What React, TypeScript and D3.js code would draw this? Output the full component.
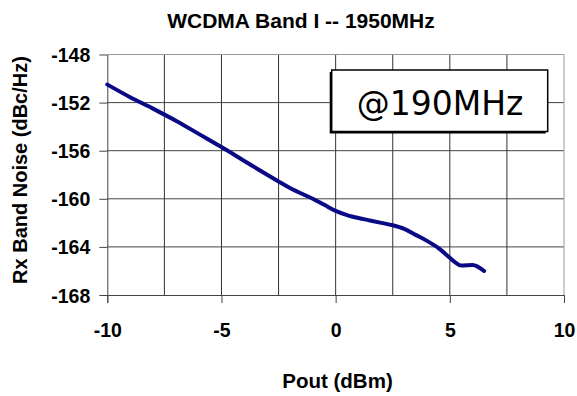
import * as d3 from 'd3';
import { useEffect, useRef } from 'react';

const pout = [-10, -9, -8, -7.5, -7, -6, -5, -4, -3, -2.5, -2, -1, -0.5, 0, 0.5, 1, 1.5, 2, 2.5, 3, 3.5, 4, 4.5, 5, 5.25, 5.5, 6, 6.5];
const noise = [-150.5, -151.55, -152.5, -153.0, -153.5, -154.6, -155.7, -156.85, -158.0, -158.56, -159.1, -160.0, -160.5, -161.0, -161.35, -161.6, -161.8, -162.0, -162.2, -162.5, -163.0, -163.5, -164.1, -164.9, -165.3, -165.55, -165.5, -166.0];
const xTicks = [-10, -5, 0, 5, 10];
const yTicks = [-148, -152, -156, -160, -164, -168];
const xGrid = [-7.5, -5, -2.5, 0, 2.5, 5, 7.5];

const width = 577;
const height = 396;
const font = '"Liberation Sans", Arial, sans-serif';

export default function App() {
  const ref = useRef<SVGSVGElement>(null);

  useEffect(() => {
    const svg = d3.select(ref.current);
    svg.selectAll('*').remove();

    const x = d3.scaleLinear().domain([-10, 10]).range([107.3, 564]);
    const y = d3.scaleLinear().domain([-168, -148]).range([295, 54.5]);
    const label = (d: d3.NumberValue) => String(d);

    svg.append('rect').attr('width', width).attr('height', height).attr('fill', '#fff');

    const grid = svg.append('g');
    grid.selectAll('line.v')
      .data(xGrid)
      .enter()
      .append('line')
      .attr('x1', (d) => x(d))
      .attr('x2', (d) => x(d))
      .attr('y1', y(-148))
      .attr('y2', y(-168))
      .attr('stroke', '#333')
      .attr('stroke-width', 1);
    grid.selectAll('line.h')
      .data(yTicks.slice(1, -1))
      .enter()
      .append('line')
      .attr('x1', x(-10))
      .attr('x2', x(10))
      .attr('y1', (d) => y(d))
      .attr('y2', (d) => y(d))
      .attr('stroke', '#444')
      .attr('stroke-width', 1);

    // top and right border
    grid.append('path')
      .attr('d', `M${x(-10)},${y(-148)}H${x(10)}V${y(-168)}`)
      .attr('fill', 'none')
      .attr('stroke', '#999')
      .attr('stroke-width', 1);

    const styleAxis = (g: d3.Selection<SVGGElement, unknown, null, undefined>) => {
      g.select('.domain').attr('stroke', '#444');
      g.selectAll('.tick line').attr('stroke', '#444');
      g.selectAll('.tick text')
        .attr('fill', '#000')
        .style('font-family', font)
        .style('font-size', '19.5px')
        .style('font-weight', 'bold');
    };

    svg.append('g')
      .attr('transform', `translate(0,${y(-168)})`)
      .call(d3.axisBottom(x).tickValues(xTicks).tickSize(8).tickSizeOuter(8).tickPadding(20).tickFormat(label))
      .call(styleAxis);

    svg.append('g')
      .attr('transform', `translate(${x(-10)},0)`)
      .call(d3.axisLeft(y).tickValues(yTicks).tickSize(8).tickSizeOuter(0).tickPadding(9).tickFormat(label))
      .call(styleAxis)
      .call((g) => g.selectAll('.tick text').attr('dy', '0.36em'));

    const line = d3.line<number>()
      .x((_d, i) => x(pout[i]))
      .y((d) => y(d))
      .curve(d3.curveMonotoneX);

    svg.append('path')
      .datum(noise)
      .attr('d', line)
      .attr('fill', 'none')
      .attr('stroke', '#0a0a86')
      .attr('stroke-width', 4)
      .attr('stroke-linecap', 'round')
      .attr('stroke-linejoin', 'round');

    // annotation box
    const box = svg.append('g');
    box.append('rect')
      .attr('x', 329.7)
      .attr('y', 72)
      .attr('width', 216)
      .attr('height', 61.5)
      .attr('fill', '#000');
    box.append('rect')
      .attr('x', 331.7)
      .attr('y', 70)
      .attr('width', 216)
      .attr('height', 61.5)
      .attr('fill', '#fff')
      .attr('stroke', '#000')
      .attr('stroke-width', 1.5);
    box.append('text')
      .attr('x', 440)
      .attr('y', 115)
      .attr('text-anchor', 'middle')
      .style('font-family', '"DejaVu Sans", Verdana, sans-serif')
      .style('font-size', '33px')
      .attr('fill', '#000')
      .text('@190MHz');

    svg.append('text')
      .attr('x', 301)
      .attr('y', 28)
      .attr('text-anchor', 'middle')
      .style('font-family', font)
      .style('font-size', '21px')
      .style('font-weight', 'bold')
      .attr('fill', '#000')
      .text('WCDMA Band I -- 1950MHz');

    svg.append('text')
      .attr('x', 337.5)
      .attr('y', 387.5)
      .attr('text-anchor', 'middle')
      .style('font-family', font)
      .style('font-size', '20.5px')
      .style('font-weight', 'bold')
      .attr('fill', '#000')
      .text('Pout (dBm)');

    svg.append('text')
      .attr('transform', 'translate(26.5,170) rotate(-90)')
      .attr('text-anchor', 'middle')
      .style('font-family', font)
      .style('font-size', '20px')
      .style('font-weight', 'bold')
      .attr('fill', '#000')
      .text('Rx Band Noise (dBc/Hz)');
  }, []);

  return (
    <svg
      ref={ref}
      width={width}
      height={height}
      style={{ position: 'absolute', left: 0, top: 0, display: 'block' }}
    />
  );
}
